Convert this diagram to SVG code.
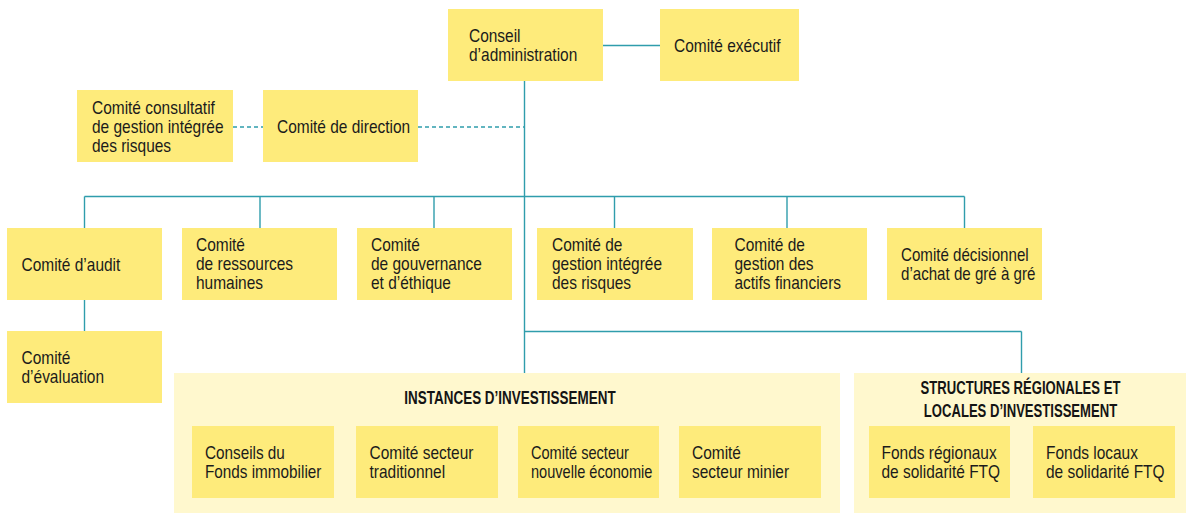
<svg xmlns="http://www.w3.org/2000/svg" width="1186" height="513" viewBox="0 0 1186 513">
<style>
.bg{fill:#ffffff}
.box{fill:#FEEB7B}
.panel{fill:#FFF8CE}
.t{font-family:"Liberation Sans",Arial,sans-serif;font-size:18px;fill:#1b1b1b}
.h{font-family:"Liberation Sans",Arial,sans-serif;font-size:17.7px;font-weight:bold;fill:#141414;text-anchor:middle}
.ln{stroke:#2F9DAC;stroke-width:1.4;fill:none}
.dash{stroke-dasharray:4 3}
</style>
<rect class="bg" x="0" y="0" width="1186" height="513"/>
<g id="panel-instances">
<rect class="panel" x="174" y="373" width="666" height="140"/>
<g transform="translate(510 0) scale(0.76 1)"><text class="h" x="0" y="404.3">INSTANCES D’INVESTISSEMENT</text></g>
</g>
<g id="panel-structures">
<rect class="panel" x="854" y="373" width="332" height="140"/>
<g transform="translate(1020.5 0) scale(0.74 1)">
<text class="h" x="0" y="394.3">STRUCTURES RÉGIONALES ET</text>
<text class="h" x="0" y="416.7">LOCALES D’INVESTISSEMENT</text>
</g>
</g>
<g id="connectors">
<line class="ln" x1="603" y1="45.5" x2="660" y2="45.5"/>
<line class="ln" x1="524.5" y1="81" x2="524.5" y2="373"/>
<line class="ln dash" x1="418" y1="127" x2="524.5" y2="127"/>
<line class="ln dash" x1="233" y1="127" x2="263" y2="127"/>
<line class="ln" x1="84.5" y1="196.5" x2="964.5" y2="196.5"/>
<line class="ln" x1="84.5" y1="196.5" x2="84.5" y2="228"/>
<line class="ln" x1="260" y1="196.5" x2="260" y2="228"/>
<line class="ln" x1="434" y1="196.5" x2="434" y2="228"/>
<line class="ln" x1="614.5" y1="196.5" x2="614.5" y2="228"/>
<line class="ln" x1="787" y1="196.5" x2="787" y2="228"/>
<line class="ln" x1="964.5" y1="196.5" x2="964.5" y2="228"/>
<line class="ln" x1="84.5" y1="300" x2="84.5" y2="331"/>
<line class="ln" x1="524.5" y1="331.5" x2="1021.5" y2="331.5"/>
<line class="ln" x1="1021.5" y1="331.5" x2="1021.5" y2="373"/>
</g>
<g id="conseil">
<rect class="box" x="448" y="9" width="155" height="72"/>
<g transform="translate(469 0) scale(0.86 1)">
<text class="t" x="0" y="42.3">Conseil</text>
<text class="t" x="0" y="60.7">d’administration</text>
</g>
</g>
<g id="executif">
<rect class="box" x="660" y="9" width="139" height="72"/>
<g transform="translate(674 0) scale(0.86 1)"><text class="t" x="0" y="52.3">Comité exécutif</text></g>
</g>
<g id="consultatif">
<rect class="box" x="77" y="90" width="156" height="72"/>
<g transform="translate(92 0) scale(0.86 1)">
<text class="t" x="0" y="114.3">Comité consultatif</text>
<text class="t" x="0" y="133.3">de gestion intégrée</text>
<text class="t" x="0" y="152.3">des risques</text>
</g>
</g>
<g id="direction">
<rect class="box" x="263" y="90" width="155" height="72"/>
<g transform="translate(277 0) scale(0.86 1)"><text class="t" x="0" y="133.3">Comité de direction</text></g>
</g>
<g id="audit">
<rect class="box" x="7" y="228" width="155" height="72"/>
<g transform="translate(21.5 0) scale(0.86 1)"><text class="t" x="0" y="270.7">Comité d’audit</text></g>
</g>
<g id="rh">
<rect class="box" x="182" y="228" width="155" height="72"/>
<g transform="translate(196 0) scale(0.86 1)">
<text class="t" x="0" y="250.7">Comité</text>
<text class="t" x="0" y="270.2">de ressources</text>
<text class="t" x="0" y="289.5">humaines</text>
</g>
</g>
<g id="gouvernance">
<rect class="box" x="357" y="228" width="155" height="72"/>
<g transform="translate(371 0) scale(0.86 1)">
<text class="t" x="0" y="250.7">Comité</text>
<text class="t" x="0" y="270.2">de gouvernance</text>
<text class="t" x="0" y="289.5">et d’éthique</text>
</g>
</g>
<g id="risques">
<rect class="box" x="537" y="228" width="156" height="72"/>
<g transform="translate(552 0) scale(0.86 1)">
<text class="t" x="0" y="250.7">Comité de</text>
<text class="t" x="0" y="270.2">gestion intégrée</text>
<text class="t" x="0" y="289.5">des risques</text>
</g>
</g>
<g id="actifs">
<rect class="box" x="712" y="228" width="155" height="72"/>
<g transform="translate(734.5 0) scale(0.86 1)">
<text class="t" x="0" y="250.7">Comité de</text>
<text class="t" x="0" y="270.2">gestion des</text>
<text class="t" x="0" y="289.5">actifs financiers</text>
</g>
</g>
<g id="decisionnel">
<rect class="box" x="887" y="228" width="155" height="72"/>
<g transform="translate(901 0) scale(0.84 1)">
<text class="t" x="0" y="261">Comité décisionnel</text>
<text class="t" x="0" y="280">d’achat de gré à gré</text>
</g>
</g>
<g id="evaluation">
<rect class="box" x="7" y="331" width="155" height="72"/>
<g transform="translate(21.5 0) scale(0.86 1)">
<text class="t" x="0" y="364">Comité</text>
<text class="t" x="0" y="382.8">d’évaluation</text>
</g>
</g>
<g id="immobilier">
<rect class="box" x="192" y="426" width="142" height="72"/>
<g transform="translate(205 0) scale(0.85 1)">
<text class="t" x="0" y="459">Conseils du</text>
<text class="t" x="0" y="477.7">Fonds immobilier</text>
</g>
</g>
<g id="traditionnel">
<rect class="box" x="356" y="426" width="142" height="72"/>
<g transform="translate(369.5 0) scale(0.86 1)">
<text class="t" x="0" y="459">Comité secteur</text>
<text class="t" x="0" y="477.7">traditionnel</text>
</g>
</g>
<g id="nouvelle">
<rect class="box" x="518" y="426" width="141" height="72"/>
<g transform="translate(531 0) scale(0.81 1)">
<text class="t" x="0" y="459">Comité secteur</text>
<text class="t" x="0" y="477.7">nouvelle économie</text>
</g>
</g>
<g id="minier">
<rect class="box" x="679" y="426" width="142" height="72"/>
<g transform="translate(692 0) scale(0.86 1)">
<text class="t" x="0" y="459">Comité</text>
<text class="t" x="0" y="477.7">secteur minier</text>
</g>
</g>
<g id="regionaux">
<rect class="box" x="869" y="426" width="141" height="72"/>
<g transform="translate(881.5 0) scale(0.86 1)">
<text class="t" x="0" y="459">Fonds régionaux</text>
<text class="t" x="0" y="477.7">de solidarité FTQ</text>
</g>
</g>
<g id="locaux">
<rect class="box" x="1033" y="426" width="142" height="72"/>
<g transform="translate(1046 0) scale(0.86 1)">
<text class="t" x="0" y="459">Fonds locaux</text>
<text class="t" x="0" y="477.7">de solidarité FTQ</text>
</g>
</g>
</svg>
